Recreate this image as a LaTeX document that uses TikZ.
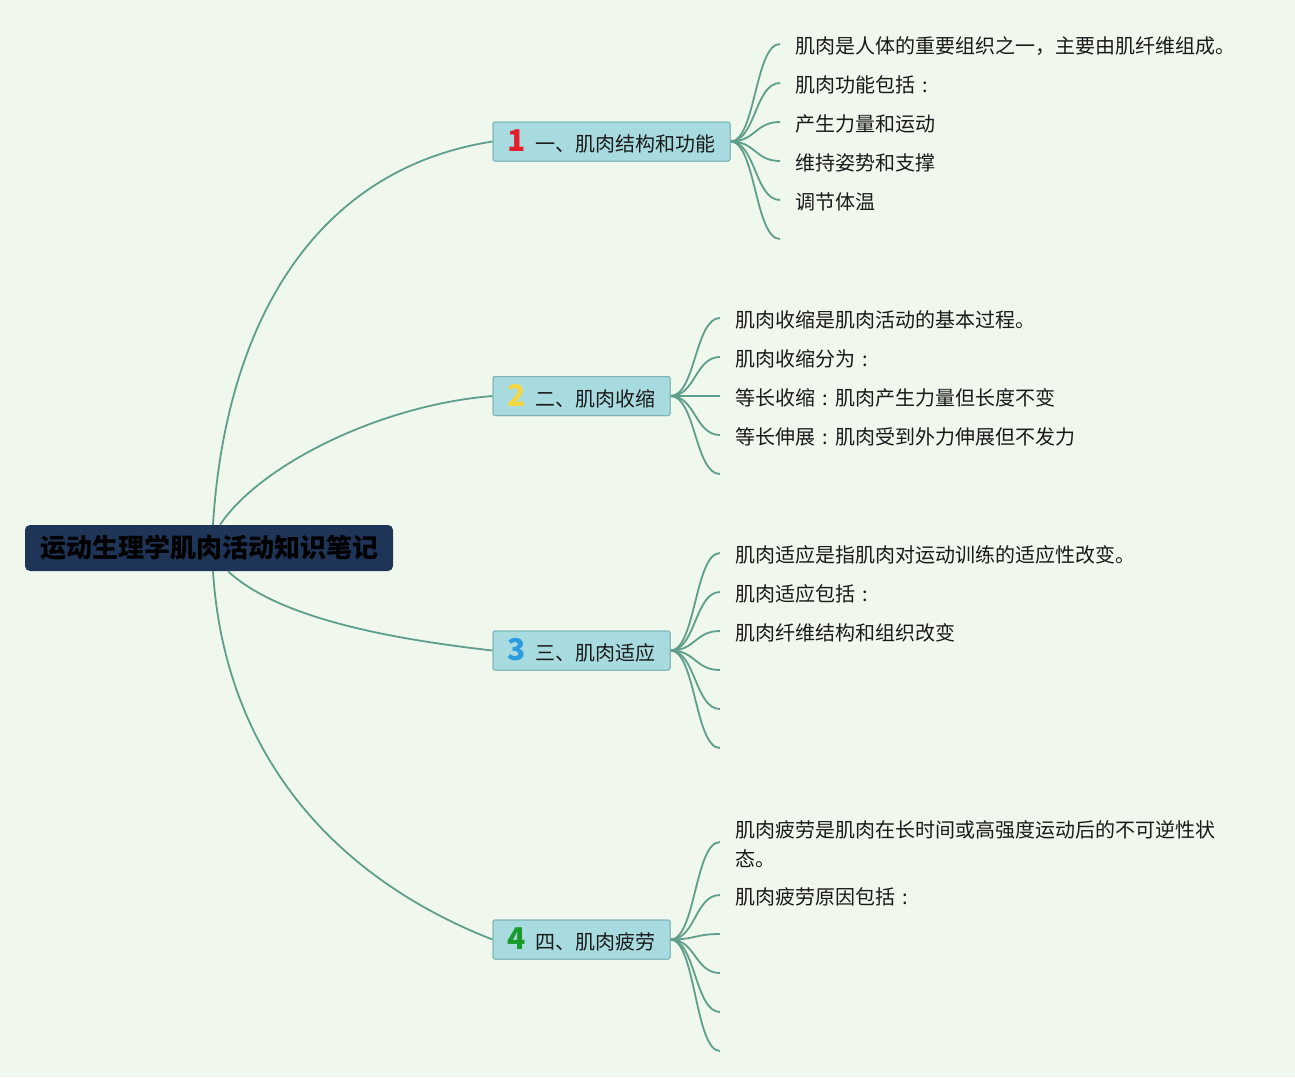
\documentclass[tikz,border=0pt]{standalone}
\usepackage{fontspec}
\setmainfont{Noto Sans CJK SC}
\usetikzlibrary{calc}
\definecolor{bg}{HTML}{F0F8EE}
\definecolor{edgec}{HTML}{5E9E8A}
\definecolor{rootfill}{HTML}{1E3557}
\definecolor{brfill}{HTML}{A8DBDF}
\definecolor{brdraw}{HTML}{7AB5B5}
\definecolor{numa}{HTML}{E0202C}
\definecolor{numb}{HTML}{F5D742}
\definecolor{numc}{HTML}{2A9DE0}
\definecolor{numd}{HTML}{1A9A2A}
\definecolor{txt}{HTML}{1A1A1A}
\newcommand{\bnum}[2]{{\fontsize{30}{30}\selectfont\bfseries\color{#1}#2}\hspace{9pt}}
\newcommand{\zcolon}{\makebox[1em][c]{:}}
\begin{document}
\begin{tikzpicture}[x=1pt,y=-1pt,
  edgeline/.style={draw=edgec,line width=1.8pt},
  rootbox/.style={fill=rootfill,rounded corners=5pt,minimum width=368pt,minimum height=46pt,inner sep=0pt,text=black,font=\fontsize{26}{30}\selectfont\bfseries},
  brbox/.style={fill=brfill,draw=brdraw,line width=1pt,rounded corners=2pt,minimum height=39pt,inner sep=0pt,text=txt,font=\fontsize{20}{24}\selectfont},
  leaf/.style={anchor=west,inner sep=0pt,yshift=-2pt,text=txt,align=left,font=\fontsize{20}{29}\selectfont}]
\fill[bg] (0,0) rectangle (1295,1077);
\useasboundingbox (0,0) rectangle (1295,1077);

% branch nodes
\node[brbox,minimum width=237pt] (b1) at (611.5,141.5) {\bnum{numa}{1}一、肌肉结构和功能};
\node[brbox,minimum width=177pt] (b2) at (581.5,396) {\bnum{numb}{2}二、肌肉收缩};
\node[brbox,minimum width=177pt] (b3) at (581.5,650.5) {\bnum{numc}{3}三、肌肉适应};
\node[brbox,minimum width=177pt] (b4) at (581.5,939.5) {\bnum{numd}{4}四、肌肉疲劳};

% leaves branch 1
\node[leaf] (l11) at (795,44) {肌肉是人体的重要组织之一，主要由肌纤维组成。};
\node[leaf] (l12) at (795,83) {肌肉功能包括\zcolon};
\node[leaf] (l13) at (795,122) {产生力量和运动};
\node[leaf] (l14) at (795,161) {维持姿势和支撑};
\node[leaf] (l15) at (795,200) {调节体温};
\coordinate (l16) at (780,239);
% leaves branch 2
\node[leaf] (l21) at (735,318) {肌肉收缩是肌肉活动的基本过程。};
\node[leaf] (l22) at (735,357) {肌肉收缩分为\zcolon};
\node[leaf] (l23) at (735,396) {等长收缩\zcolon 肌肉产生力量但长度不变};
\node[leaf] (l24) at (735,435) {等长伸展\zcolon 肌肉受到外力伸展但不发力};
\coordinate (l25) at (720,474);
% leaves branch 3
\node[leaf] (l31) at (735,553) {肌肉适应是指肌肉对运动训练的适应性改变。};
\node[leaf] (l32) at (735,592) {肌肉适应包括\zcolon};
\node[leaf] (l33) at (735,631) {肌肉纤维结构和组织改变};
\coordinate (l34) at (720,670);
\coordinate (l35) at (720,709);
\coordinate (l36) at (720,748);
% leaves branch 4
\node[leaf] (l41) at (735,842) {肌肉疲劳是肌肉在长时间或高强度运动后的不可逆性状\\态。};
\node[leaf] (l42) at (735,895) {肌肉疲劳原因包括\zcolon};
\coordinate (l43) at (720,934);
\coordinate (l44) at (720,973);
\coordinate (l45) at (720,1012);
\coordinate (l46) at (720,1051);

% leaf connectors
\foreach \n in {l11,l12,l13,l14,l15}
  \draw[edgeline] (b1.east) .. controls +(25,0) and +(-25,0) .. ([xshift=-15pt,yshift=2pt]\n.west);
\draw[edgeline] (b1.east) .. controls +(25,0) and +(-25,0) .. (l16);
\foreach \n in {l21,l22,l23,l24}
  \draw[edgeline] (b2.east) .. controls +(25,0) and +(-25,0) .. ([xshift=-15pt,yshift=2pt]\n.west);
\draw[edgeline] (b2.east) .. controls +(25,0) and +(-25,0) .. (l25);
\foreach \n in {l31,l32,l33}
  \draw[edgeline] (b3.east) .. controls +(25,0) and +(-25,0) .. ([xshift=-15pt,yshift=2pt]\n.west);
\foreach \n in {l34,l35,l36}
  \draw[edgeline] (b3.east) .. controls +(25,0) and +(-25,0) .. (\n);
\foreach \n in {l41,l42}
  \draw[edgeline] (b4.east) .. controls +(25,0) and +(-25,0) .. ([xshift=-15pt,yshift=2pt]\n.west);
\foreach \n in {l43,l44,l45,l46}
  \draw[edgeline] (b4.east) .. controls +(25,0) and +(-25,0) .. (\n);

% root
\node[rootbox] (root) at (209,548) {运动生理学肌肉活动知识笔记};

% root connectors
\draw[edgeline] ($(root.north)+(4,0)$) .. controls (225,330) and (310,170) .. (b1.west);
\draw[edgeline] ($(root.north)+(11,0)$) .. controls (260,465) and (380,405) .. (b2.west);
\draw[edgeline] ($(root.south)+(19,0)$) .. controls (280,620) and (400,640) .. (b3.west);
\draw[edgeline] ($(root.south)+(4,0)$) .. controls (225,760) and (340,880) .. (b4.west);

% redraw nodes on top
\node[brbox,minimum width=237pt] at (b1) {\bnum{numa}{1}一、肌肉结构和功能};
\node[brbox,minimum width=177pt] at (b2) {\bnum{numb}{2}二、肌肉收缩};
\node[brbox,minimum width=177pt] at (b3) {\bnum{numc}{3}三、肌肉适应};
\node[brbox,minimum width=177pt] at (b4) {\bnum{numd}{4}四、肌肉疲劳};
\end{tikzpicture}
\end{document}
